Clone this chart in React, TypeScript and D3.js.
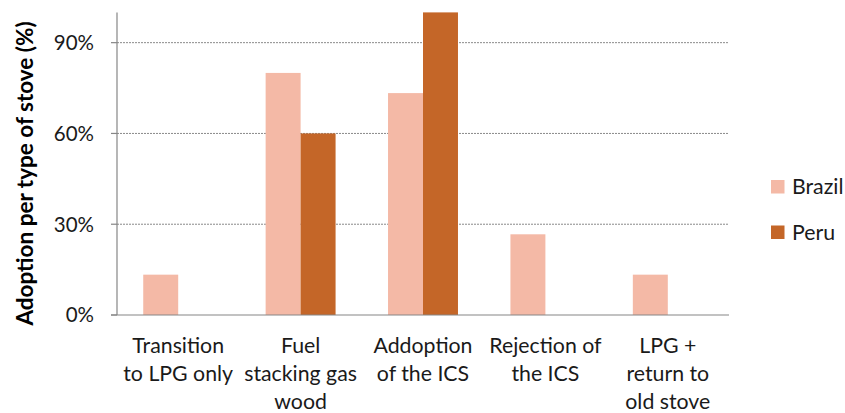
import React from "react";
import * as d3 from "d3";

const categories = ["Transition to LPG only", "Fuel stacking gas wood", "Addoption of the ICS", "Rejection of the ICS", "LPG + return to old stove"];
const categoryLines = [
  ["Transition", "to LPG only"],
  ["Fuel", "stacking gas", "wood"],
  ["Addoption", "of the ICS"],
  ["Rejection of", "the ICS"],
  ["LPG +", "return to", "old stove"],
];
const seriesNames = ["Brazil", "Peru"];
const brazil = [13.33, 80, 73.33, 26.67, 13.33];
const peru = [0, 60, 100, 0, 0];
const yTicks = [0, 30, 60, 90];
const colors = ["#F4B9A6", "#C46628"];

const W = 845, H = 413;
const left = 117, right = 729, top = 12.4, bottom = 315;
const FONT = "Lato, 'Open Sans', sans-serif";

export default function App() {
  const x0 = d3.scaleBand<string>().domain(categories).range([left, right]).padding(0);
  const x1 = d3.scaleBand<string>().domain(seriesNames).range([0, x0.bandwidth()]).paddingInner(0).paddingOuter(0.75);
  const y = d3.scaleLinear().domain([0, 100]).range([bottom, top]);
  const values = [brazil, peru];
  return (
    <svg width={W} height={H} style={{ position: "absolute", left: 0, top: 0, background: "#fff" }} fontFamily={FONT}>
      {yTicks.filter(t => t > 0).map(t => (
        <line key={"g" + t} x1={left} x2={right} y1={y(t)} y2={y(t)} stroke="#8a8a8a" strokeWidth={1} strokeDasharray="2,1" />
      ))}
      {categories.map((c, ci) =>
        seriesNames.map((s, si) => {
          const v = values[si][ci];
          if (!v) return null;
          return (
            <rect key={c + s} x={(x0(c) as number) + (x1(s) as number)} y={y(v)} width={x1.bandwidth()} height={y(0) - y(v)} fill={colors[si]} />
          );
        })
      )}
      <line x1={left} x2={left} y1={top} y2={bottom} stroke="#868686" strokeWidth={1.2} />
      <line x1={left - 6} x2={right} y1={bottom} y2={bottom} stroke="#868686" strokeWidth={1.2} />
      {yTicks.map(t => (
        <g key={"t" + t}>
          <line x1={left - 6} x2={left} y1={y(t)} y2={y(t)} stroke="#868686" strokeWidth={1.2} />
          <text x={94} y={y(t)} dy="0.36em" textAnchor="end" fontSize={20.5} fill="#1a1a1a">{t}%</text>
        </g>
      ))}
      {categories.map((c, ci) => (
        <text key={"c" + c} textAnchor="middle" fontSize={21.3} fill="#1a1a1a">
          {categoryLines[ci].map((ln, li) => (
            <tspan key={li} x={(x0(c) as number) + x0.bandwidth() / 2} y={353 + li * 28}>{ln}</tspan>
          ))}
        </text>
      ))}
      <text transform={`translate(33,173.5) rotate(-90)`} textAnchor="middle" fontSize={22.5} fontWeight="bold" fill="#000">
        Adoption per type of stove (%)
      </text>
      {seriesNames.map((s, si) => (
        <g key={"l" + s}>
          <rect x={771} y={180 + si * 45.5} width={13.5} height={13.5} fill={colors[si]} />
          <text x={792} y={194 + si * 45.5} fontSize={21.3} fill="#1a1a1a">{s}</text>
        </g>
      ))}
    </svg>
  );
}
